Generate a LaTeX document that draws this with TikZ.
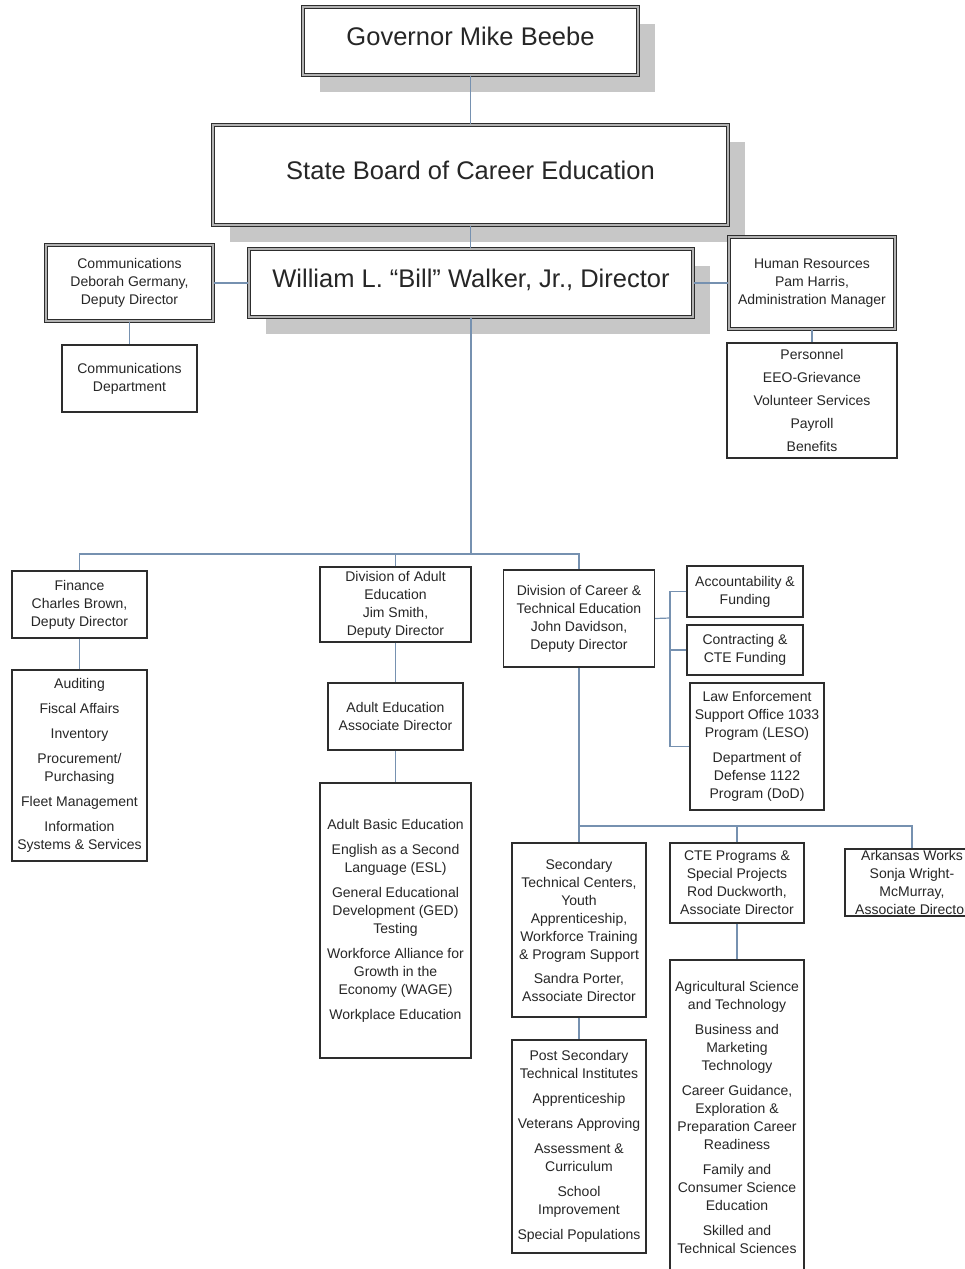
\documentclass[tikz,border=0pt]{standalone}
\usepackage{fontspec}
\setmainfont{Liberation Sans}
\usepackage{xcolor}
\usetikzlibrary{shadows}
\definecolor{linkblue}{RGB}{118,145,176}
\definecolor{boxline}{RGB}{45,45,45}
\tikzset{
  dims/.style 2 args={minimum width=#1pt, minimum height=#2pt},
  unitbox/.style={draw=boxline, line width=1.2pt, fill=white, align=center, inner sep=1pt,
    text=black!85, font=\fontsize{14}{18}\selectfont},
  headbox/.style={unitbox, double=black!30, double distance=2pt, line width=1.1pt},
  topbox/.style={headbox, font=\fontsize{25.5}{30}\selectfont, text height=19pt, text depth=10pt,
    drop shadow={shadow xshift=17pt, shadow yshift=-17pt, fill=black!22, opacity=1}},
  link/.style={draw=linkblue, line width=1.2pt}
}
\begin{document}
\begin{tikzpicture}[x=1pt, y=-1pt]
\useasboundingbox (0,0) rectangle (964,1269);
% top of the chart
\node[topbox, dims={335}{68}] (gov) at (470.5,41) {Governor Mike Beebe};
\node[topbox, dims={515}{100}] (board) at (470.5,175) {State Board of Career Education};
\node[topbox, dims={444}{68}] (walker) at (471,283) {William L. ``Bill'' Walker, Jr., Director};
\node[headbox, dims={167}{76}] (comms) at (129.5,283) {Communications\\Deborah Germany,\\Deputy Director};
\node[unitbox, dims={135}{67}] (commsdept) at (129.5,378.5) {Communications\\Department};
\node[headbox, dims={166}{92}] (hr) at (812,283) {Human Resources\\Pam Harris,\\Administration Manager};
\node[unitbox, dims={170}{115}] (hrlist) at (812,400.5)
  {Personnel\\[5pt]EEO-Grievance\\[5pt]Volunteer Services\\[5pt]Payroll\\[5pt]Benefits};
% divisions
\node[unitbox, dims={135}{67}] (finance) at (79.5,604.5) {Finance\\Charles Brown,\\Deputy Director};
\node[unitbox, dims={135}{191}] (finlist) at (79.5,765.5)
  {Auditing\\[7pt]Fiscal Affairs\\[7pt]Inventory\\[7pt]Procurement/\\Purchasing\\[7pt]Fleet Management\\[7pt]Information\\Systems \& Services};
\node[unitbox, dims={151}{75}] (adult) at (395.5,604.5) {Division of Adult\\Education\\Jim Smith,\\Deputy Director};
\node[unitbox, dims={135}{67}] (adultassoc) at (395.5,716.5) {Adult Education\\Associate Director};
\node[unitbox, dims={151}{275}] (adultlist) at (395.5,920.5)
  {Adult Basic Education\\[7pt]English as a Second\\Language (ESL)\\[7pt]General Educational\\Development (GED)\\Testing\\[7pt]Workforce Alliance for\\Growth in the\\Economy (WAGE)\\[7pt]Workplace Education};
\node[unitbox, dims={151}{97}] (cte) at (579,618.5) {Division of Career \&\\Technical Education\\John Davidson,\\Deputy Director};
\node[unitbox, dims={116}{51}] (acct) at (745,591.5) {Accountability \&\\Funding};
\node[unitbox, dims={116}{50}] (contract) at (745,650) {Contracting \&\\CTE Funding};
\node[unitbox, dims={134}{127}] (leso) at (757,746.5)
  {Law Enforcement\\Support Office 1033\\Program (LESO)\\[7pt]Department of\\Defense 1122\\Program (DoD)};
% career and technical education
\node[unitbox, dims={134}{174}] (secondary) at (579,930)
  {Secondary\\Technical Centers,\\Youth\\Apprenticeship,\\Workforce Training\\\& Program Support\\[6pt]Sandra Porter,\\Associate Director};
\node[unitbox, dims={134}{213}] (postsec) at (579,1146.5)
  {Post Secondary\\Technical Institutes\\[7pt]Apprenticeship\\[7pt]Veterans Approving\\[7pt]Assessment \&\\Curriculum\\[7pt]School\\Improvement\\[7pt]Special Populations};
\node[unitbox, dims={134}{80}] (cteprog) at (737,883) {CTE Programs \&\\Special Projects\\Rod Duckworth,\\Associate Director};
\node[unitbox, dims={134}{314}] (aglist) at (737,1117)
  {Agricultural Science\\and Technology\\[7pt]Business and\\Marketing\\Technology\\[7pt]Career Guidance,\\Exploration \&\\Preparation Career\\Readiness\\[7pt]Family and\\Consumer Science\\Education\\[7pt]Skilled and\\Technical Sciences};
\node[unitbox, dims={134}{67}] (arkworks) at (912,882.5) {Arkansas Works\\Sonja Wright-\\McMurray,\\Associate Director};
% connectors
\coordinate (bus) at (471,554);
\coordinate (cteside) at (670,618);
\coordinate (ctebus) at (579,826);
\draw[link] (gov.south) -- (board.north);
\draw[link] (board.south) -- (board.south |- walker.north);
\draw[link] (comms.east) -- (walker.west);
\draw[link] (walker.east) -- (hr.west);
\draw[link] (comms.south) -- (commsdept.north);
\draw[link] (hr.south) -- (hrlist.north);
\draw[link] (walker.south) -- (bus);
\draw[link] (finance.north) |- (bus);
\draw[link] (cte.north) |- (bus);
\draw[link] (adult.north) -- (adult.north |- bus);
\draw[link] (finance.south) -- (finlist.north);
\draw[link] (adult.south) -- (adultassoc.north);
\draw[link] (adultassoc.south) -- (adultlist.north);
\draw[link] (cte.east) -- (cteside);
\foreach \n in {acct, contract, leso}
  \draw[link] (\n.west) -| (cteside);
\draw[link] (cte.south) -- (secondary.north);
\draw[link] (arkworks.north) |- (ctebus);
\draw[link] (cteprog.north) -- (cteprog.north |- ctebus);
\draw[link] (secondary.south) -- (postsec.north);
\draw[link] (cteprog.south) -- (aglist.north);
\end{tikzpicture}
\end{document}
